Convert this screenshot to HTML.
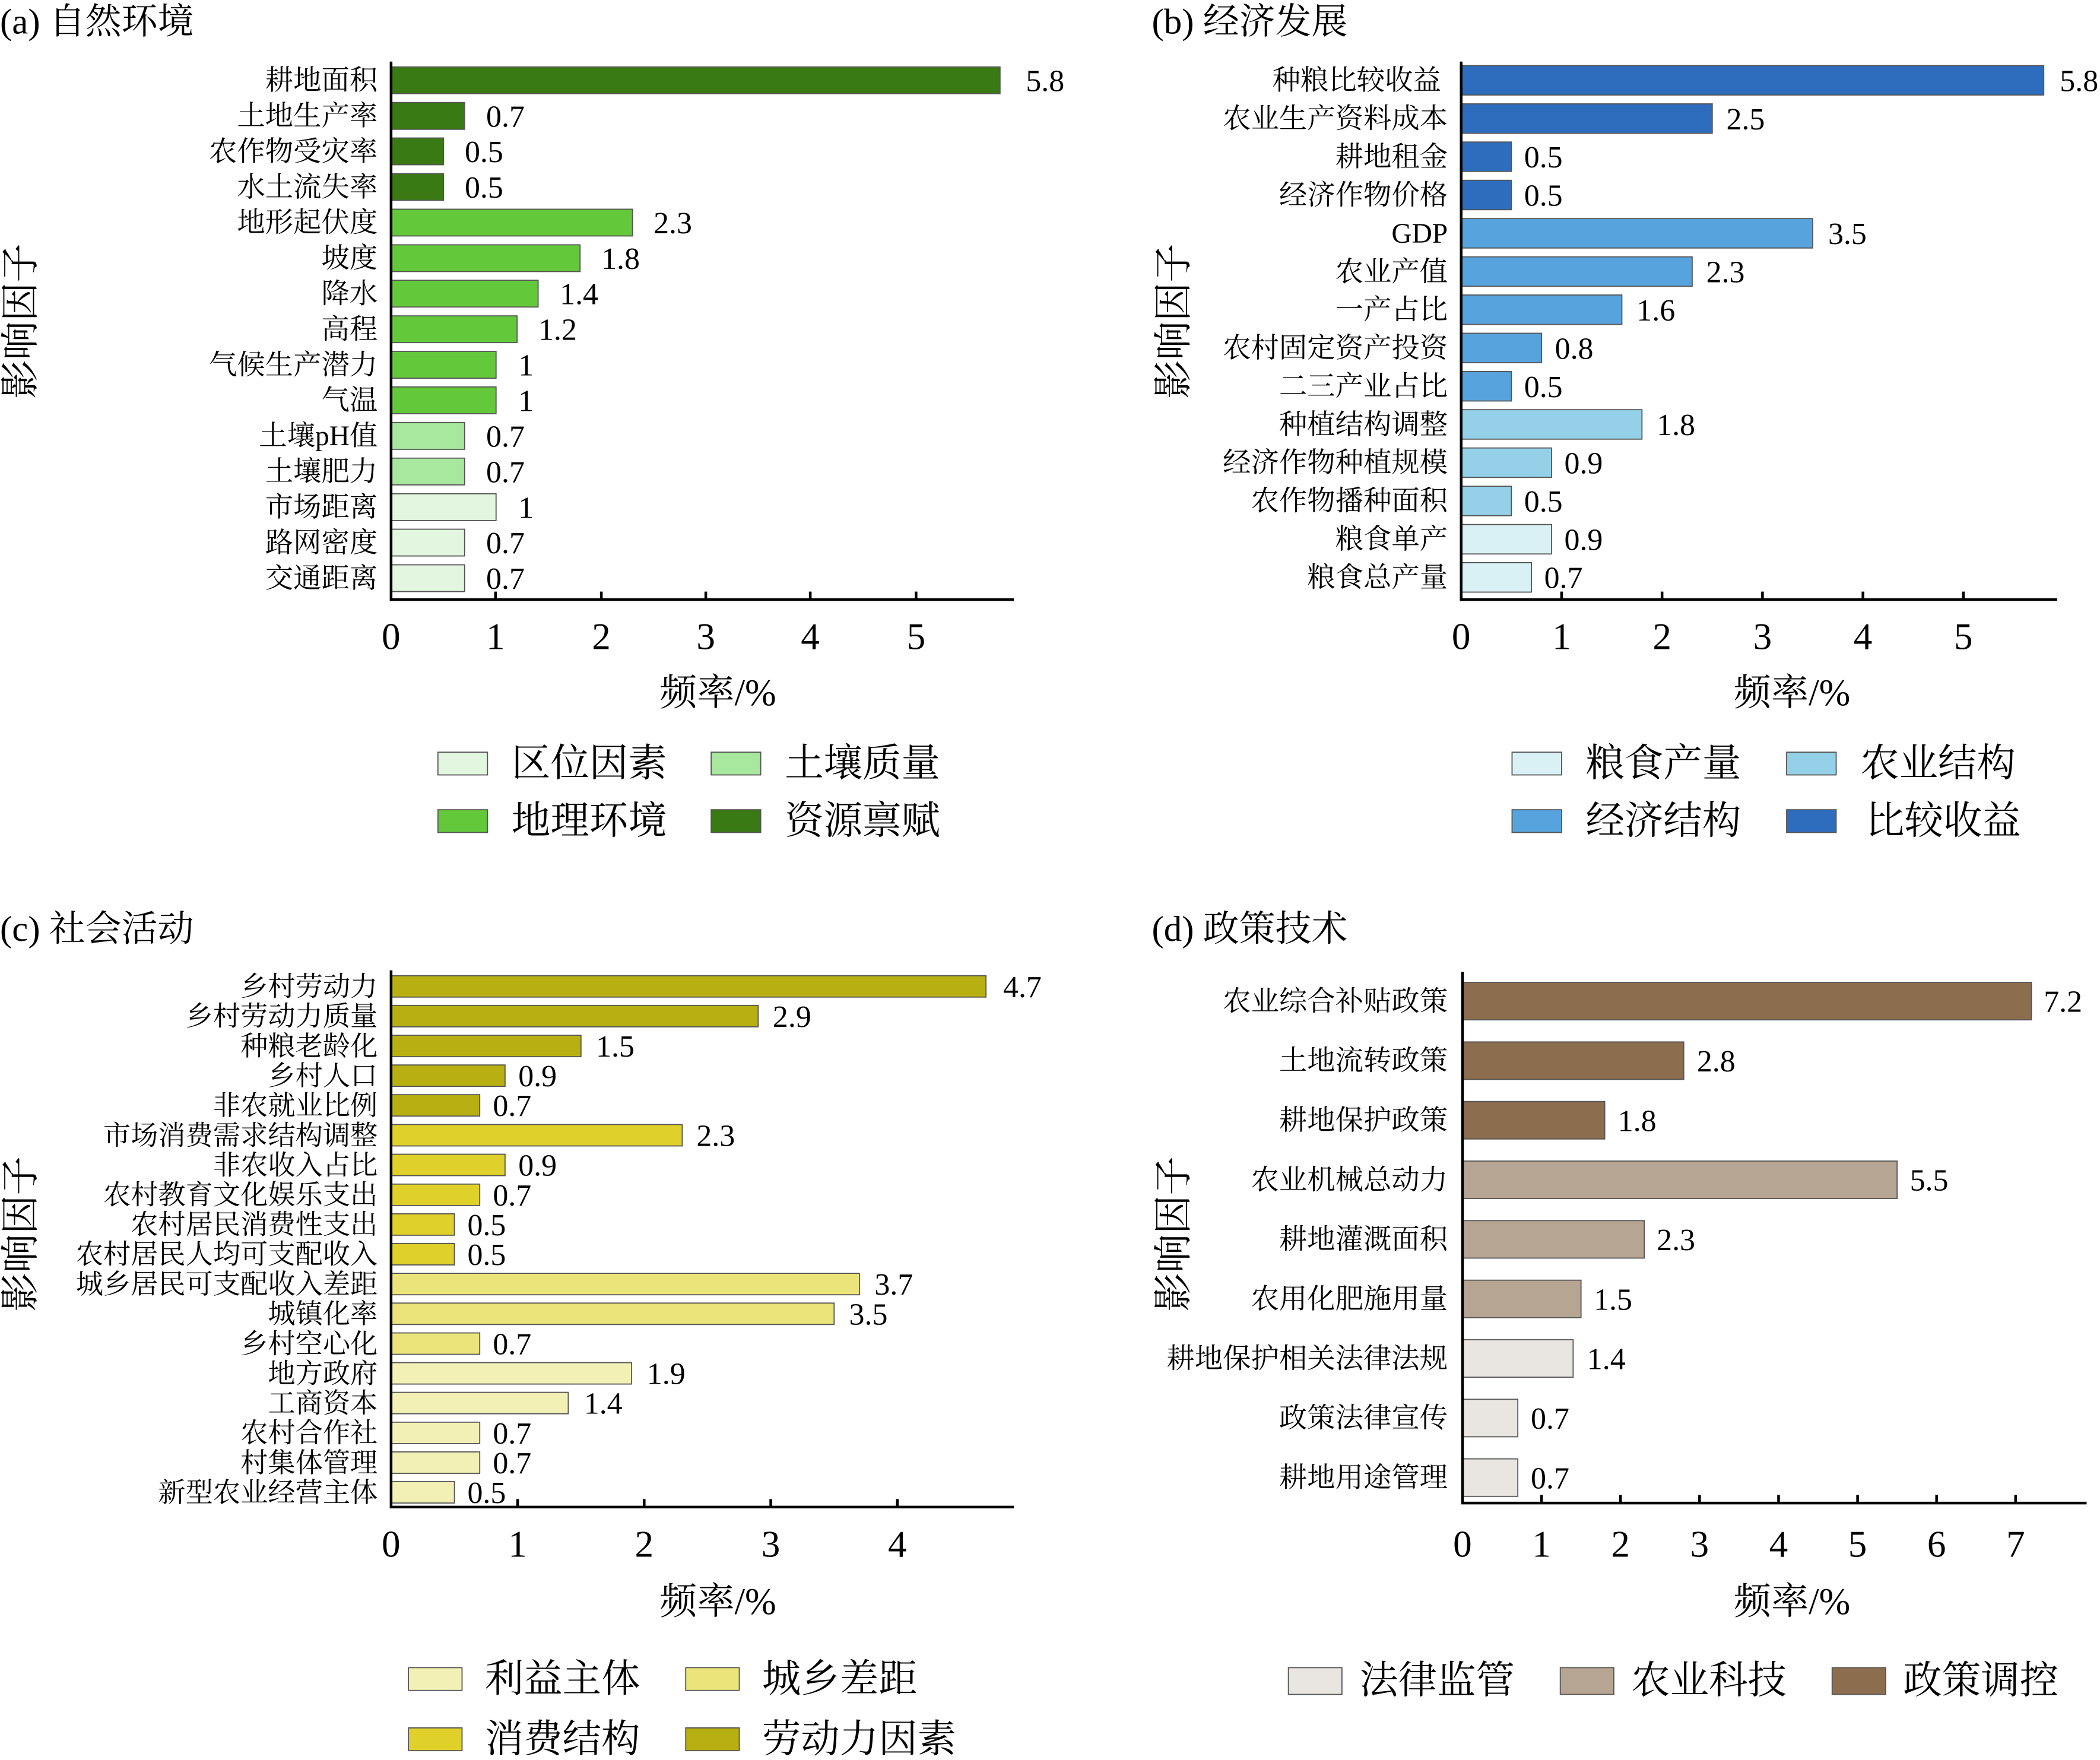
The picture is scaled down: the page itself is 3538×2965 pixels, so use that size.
<!DOCTYPE html>
<html><head><meta charset="utf-8"><style>
html,body{margin:0;padding:0;background:#fff;}
svg{display:block;}
text{font-family:"Liberation Serif","Noto Serif CJK SC",serif;fill:#000;}
.c{font-size:21px;text-anchor:end;}
.c2{font-size:20.5px;text-anchor:end;}
.v{font-size:23px;}
.t{font-size:28px;text-anchor:middle;}
.ti{font-size:27px;}
.lg{font-size:29px;}
.yl{font-size:29px;text-anchor:middle;}
rect{stroke:#555;stroke-width:0.8;}
</style></head><body>
<svg width="3538" height="2965" viewBox="0 0 1568 1315" preserveAspectRatio="none" xmlns="http://www.w3.org/2000/svg">
<!-- (a) -->
<text class="ti" x="0" y="25">(a) 自然环境</text>
<g>
<rect x="292" y="50" width="454.7" height="20" fill="#3a7a14"/>
<rect x="292" y="76.6" width="54.9" height="20" fill="#3a7a14"/>
<rect x="292" y="103.1" width="39.2" height="20" fill="#3a7a14"/>
<rect x="292" y="129.7" width="39.2" height="20" fill="#3a7a14"/>
<rect x="292" y="156.3" width="180.3" height="20" fill="#63c83a"/>
<rect x="292" y="182.9" width="141.1" height="20" fill="#63c83a"/>
<rect x="292" y="209.4" width="109.8" height="20" fill="#63c83a"/>
<rect x="292" y="236" width="94.1" height="20" fill="#63c83a"/>
<rect x="292" y="262.6" width="78.4" height="20" fill="#63c83a"/>
<rect x="292" y="289.1" width="78.4" height="20" fill="#63c83a"/>
<rect x="292" y="315.7" width="54.9" height="20" fill="#a8e89e"/>
<rect x="292" y="342.3" width="54.9" height="20" fill="#a8e89e"/>
<rect x="292" y="368.9" width="78.4" height="20" fill="#e3f6e0"/>
<rect x="292" y="395.4" width="54.9" height="20" fill="#e3f6e0"/>
<rect x="292" y="422" width="54.9" height="20" fill="#e3f6e0"/>
</g>
<g>
<text class="c" x="282" y="67">耕地面积</text>
<text class="c" x="282" y="93.6">土地生产率</text>
<text class="c" x="282" y="120.1">农作物受灾率</text>
<text class="c" x="282" y="146.7">水土流失率</text>
<text class="c" x="282" y="173.3">地形起伏度</text>
<text class="c" x="282" y="199.9">坡度</text>
<text class="c" x="282" y="226.4">降水</text>
<text class="c" x="282" y="253">高程</text>
<text class="c" x="282" y="279.6">气候生产潜力</text>
<text class="c" x="282" y="306.1">气温</text>
<text class="c" x="282" y="332.7">土壤pH值</text>
<text class="c" x="282" y="359.3">土壤肥力</text>
<text class="c" x="282" y="385.9">市场距离</text>
<text class="c" x="282" y="412.4">路网密度</text>
<text class="c" x="282" y="439">交通距离</text>
</g>
<g>
<text class="v" x="766" y="68">5.8</text>
<text class="v" x="363" y="94.6">0.7</text>
<text class="v" x="347" y="121.1">0.5</text>
<text class="v" x="347" y="147.7">0.5</text>
<text class="v" x="488" y="174.3">2.3</text>
<text class="v" x="449" y="200.9">1.8</text>
<text class="v" x="418" y="227.4">1.4</text>
<text class="v" x="402" y="254">1.2</text>
<text class="v" x="387" y="280.6">1</text>
<text class="v" x="387" y="307.1">1</text>
<text class="v" x="363" y="333.7">0.7</text>
<text class="v" x="363" y="360.3">0.7</text>
<text class="v" x="387" y="386.9">1</text>
<text class="v" x="363" y="413.4">0.7</text>
<text class="v" x="363" y="440">0.7</text>
</g>
<path d="M292 46V448H757M370 448v-6M449 448v-6M527 448v-6M605 448v-6M684 448v-6" stroke="#000" stroke-width="2" fill="none"/>
<g><text class="t" x="292" y="485">0</text><text class="t" x="370" y="485">1</text><text class="t" x="449" y="485">2</text><text class="t" x="527" y="485">3</text><text class="t" x="605" y="485">4</text><text class="t" x="684" y="485">5</text></g>
<text class="t" x="536" y="527">频率/%</text>
<text class="yl" transform="translate(25,240) rotate(-90)">影响因子</text>
<rect x="327" y="562" width="37" height="17" fill="#e3f6e0"/><text class="lg" x="382" y="580">区位因素</text>
<rect x="531" y="562" width="37" height="17" fill="#a8e89e"/><text class="lg" x="586" y="580">土壤质量</text>
<rect x="327" y="605" width="37" height="17" fill="#63c83a"/><text class="lg" x="382" y="623">地理环境</text>
<rect x="531" y="605" width="37" height="17" fill="#3a7a14"/><text class="lg" x="586" y="623">资源禀赋</text>

<!-- (b) -->
<text class="ti" x="860" y="25">(b) 经济发展</text>
<g>
<rect x="1091" y="49" width="435" height="22" fill="#2e6dbd"/>
<rect x="1091" y="77.6" width="187.5" height="22" fill="#2e6dbd"/>
<rect x="1091" y="106.1" width="37.5" height="22" fill="#2e6dbd"/>
<rect x="1091" y="134.7" width="37.5" height="22" fill="#2e6dbd"/>
<rect x="1091" y="163.3" width="262.5" height="22" fill="#57a3de"/>
<rect x="1091" y="191.9" width="172.5" height="22" fill="#57a3de"/>
<rect x="1091" y="220.4" width="120" height="22" fill="#57a3de"/>
<rect x="1091" y="249" width="60" height="22" fill="#57a3de"/>
<rect x="1091" y="277.6" width="37.5" height="22" fill="#57a3de"/>
<rect x="1091" y="306.1" width="135" height="22" fill="#94d1e8"/>
<rect x="1091" y="334.7" width="67.5" height="22" fill="#94d1e8"/>
<rect x="1091" y="363.3" width="37.5" height="22" fill="#94d1e8"/>
<rect x="1091" y="391.9" width="67.5" height="22" fill="#d9f1f4"/>
<rect x="1091" y="420.4" width="52.5" height="22" fill="#d9f1f4"/>
</g>
<g>
<text class="c" x="1076" y="67">种粮比较收益</text>
<text class="c" x="1081" y="95.6">农业生产资料成本</text>
<text class="c" x="1081" y="124.1">耕地租金</text>
<text class="c" x="1081" y="152.7">经济作物价格</text>
<text class="c" x="1081" y="181.3">GDP</text>
<text class="c" x="1081" y="209.9">农业产值</text>
<text class="c" x="1081" y="238.4">一产占比</text>
<text class="c" x="1081" y="267">农村固定资产投资</text>
<text class="c" x="1081" y="295.6">二三产业占比</text>
<text class="c" x="1081" y="324.1">种植结构调整</text>
<text class="c" x="1081" y="352.7">经济作物种植规模</text>
<text class="c" x="1081" y="381.3">农作物播种面积</text>
<text class="c" x="1081" y="409.9">粮食单产</text>
<text class="c" x="1081" y="438.4">粮食总产量</text>
</g>
<g>
<text class="v" x="1538" y="68">5.8</text>
<text class="v" x="1289" y="96.6">2.5</text>
<text class="v" x="1138" y="125.1">0.5</text>
<text class="v" x="1138" y="153.7">0.5</text>
<text class="v" x="1365" y="182.3">3.5</text>
<text class="v" x="1274" y="210.9">2.3</text>
<text class="v" x="1222" y="239.4">1.6</text>
<text class="v" x="1161" y="268">0.8</text>
<text class="v" x="1138" y="296.6">0.5</text>
<text class="v" x="1237" y="325.1">1.8</text>
<text class="v" x="1168" y="353.7">0.9</text>
<text class="v" x="1138" y="382.3">0.5</text>
<text class="v" x="1168" y="410.9">0.9</text>
<text class="v" x="1153" y="439.4">0.7</text>
</g>
<path d="M1091 46V448H1536M1166 448v-6M1241 448v-6M1316 448v-6M1391 448v-6M1466 448v-6" stroke="#000" stroke-width="2" fill="none"/>
<g><text class="t" x="1091" y="485">0</text><text class="t" x="1166" y="485">1</text><text class="t" x="1241" y="485">2</text><text class="t" x="1316" y="485">3</text><text class="t" x="1391" y="485">4</text><text class="t" x="1466" y="485">5</text></g>
<text class="t" x="1338" y="527">频率/%</text>
<text class="yl" transform="translate(886,240) rotate(-90)">影响因子</text>
<rect x="1129" y="562" width="37" height="17" fill="#d9f1f4"/><text class="lg" x="1184" y="580">粮食产量</text>
<rect x="1334" y="562" width="37" height="17" fill="#94d1e8"/><text class="lg" x="1389" y="580">农业结构</text>
<rect x="1129" y="605" width="37" height="17" fill="#57a3de"/><text class="lg" x="1184" y="623">经济结构</text>
<rect x="1334" y="605" width="37" height="17" fill="#2e6dbd"/><text class="lg" x="1393" y="623">比较收益</text>

<!-- (c) -->
<text class="ti" x="0" y="703">(c) 社会活动</text>
<g>
<rect x="292" y="729" width="444.2" height="16" fill="#b8b012"/>
<rect x="292" y="751.2" width="274.1" height="16" fill="#b8b012"/>
<rect x="292" y="773.5" width="141.8" height="16" fill="#b8b012"/>
<rect x="292" y="795.7" width="85.1" height="16" fill="#b8b012"/>
<rect x="292" y="817.9" width="66.2" height="16" fill="#b8b012"/>
<rect x="292" y="840.2" width="217.4" height="16" fill="#dfd12a"/>
<rect x="292" y="862.4" width="85.1" height="16" fill="#dfd12a"/>
<rect x="292" y="884.7" width="66.2" height="16" fill="#dfd12a"/>
<rect x="292" y="906.9" width="47.3" height="16" fill="#dfd12a"/>
<rect x="292" y="929.1" width="47.3" height="16" fill="#dfd12a"/>
<rect x="292" y="951.4" width="349.7" height="16" fill="#ebe47a"/>
<rect x="292" y="973.6" width="330.8" height="16" fill="#ebe47a"/>
<rect x="292" y="995.9" width="66.2" height="16" fill="#ebe47a"/>
<rect x="292" y="1018.1" width="179.6" height="16" fill="#f3f0b6"/>
<rect x="292" y="1040.3" width="132.3" height="16" fill="#f3f0b6"/>
<rect x="292" y="1062.6" width="66.2" height="16" fill="#f3f0b6"/>
<rect x="292" y="1084.8" width="66.2" height="16" fill="#f3f0b6"/>
<rect x="292" y="1107" width="47.3" height="16" fill="#f3f0b6"/>
</g>
<g>
<text class="c2" x="282" y="744">乡村劳动力</text>
<text class="c2" x="282" y="766.2">乡村劳动力质量</text>
<text class="c2" x="282" y="788.5">种粮老龄化</text>
<text class="c2" x="282" y="810.7">乡村人口</text>
<text class="c2" x="282" y="832.9">非农就业比例</text>
<text class="c2" x="282" y="855.2">市场消费需求结构调整</text>
<text class="c2" x="282" y="877.4">非农收入占比</text>
<text class="c2" x="282" y="899.7">农村教育文化娱乐支出</text>
<text class="c2" x="282" y="921.9">农村居民消费性支出</text>
<text class="c2" x="282" y="944.1">农村居民人均可支配收入</text>
<text class="c2" x="282" y="966.4">城乡居民可支配收入差距</text>
<text class="c2" x="282" y="988.6">城镇化率</text>
<text class="c2" x="282" y="1010.9">乡村空心化</text>
<text class="c2" x="282" y="1033.1">地方政府</text>
<text class="c2" x="282" y="1055.3">工商资本</text>
<text class="c2" x="282" y="1077.6">农村合作社</text>
<text class="c2" x="282" y="1099.8">村集体管理</text>
<text class="c2" x="282" y="1122">新型农业经营主体</text>
</g>
<g>
<text class="v" x="749" y="745">4.7</text>
<text class="v" x="577" y="767.2">2.9</text>
<text class="v" x="445" y="789.5">1.5</text>
<text class="v" x="387" y="811.7">0.9</text>
<text class="v" x="368" y="833.9">0.7</text>
<text class="v" x="520" y="856.2">2.3</text>
<text class="v" x="387" y="878.4">0.9</text>
<text class="v" x="368" y="900.7">0.7</text>
<text class="v" x="349" y="922.9">0.5</text>
<text class="v" x="349" y="945.1">0.5</text>
<text class="v" x="653" y="967.4">3.7</text>
<text class="v" x="634" y="989.6">3.5</text>
<text class="v" x="368" y="1011.9">0.7</text>
<text class="v" x="483" y="1034.1">1.9</text>
<text class="v" x="436" y="1056.3">1.4</text>
<text class="v" x="368" y="1078.6">0.7</text>
<text class="v" x="368" y="1100.8">0.7</text>
<text class="v" x="349" y="1123">0.5</text>
</g>
<path d="M292 725V1126H757M386.5 1126v-6M481 1126v-6M575.5 1126v-6M670 1126v-6" stroke="#000" stroke-width="2" fill="none"/>
<g><text class="t" x="292" y="1163">0</text><text class="t" x="386.5" y="1163">1</text><text class="t" x="481" y="1163">2</text><text class="t" x="575.5" y="1163">3</text><text class="t" x="670" y="1163">4</text></g>
<text class="t" x="536" y="1206">频率/%</text>
<text class="yl" transform="translate(25,922) rotate(-90)">影响因子</text>
<rect x="305" y="1246" width="40" height="17" fill="#f3f0b6"/><text class="lg" x="362" y="1264">利益主体</text>
<rect x="512" y="1246" width="40" height="17" fill="#ebe47a"/><text class="lg" x="569" y="1264">城乡差距</text>
<rect x="305" y="1291" width="40" height="17" fill="#dfd12a"/><text class="lg" x="362" y="1309">消费结构</text>
<rect x="512" y="1291" width="40" height="17" fill="#b8b012"/><text class="lg" x="569" y="1309">劳动力因素</text>

<!-- (d) -->
<text class="ti" x="860" y="703">(d) 政策技术</text>
<g>
<rect x="1092" y="734" width="424.8" height="28" fill="#8c6d4e"/>
<rect x="1092" y="778.5" width="165.2" height="28" fill="#8c6d4e"/>
<rect x="1092" y="823" width="106.2" height="28" fill="#8c6d4e"/>
<rect x="1092" y="867.5" width="324.5" height="28" fill="#b7a593"/>
<rect x="1092" y="912" width="135.7" height="28" fill="#b7a593"/>
<rect x="1092" y="956.5" width="88.5" height="28" fill="#b7a593"/>
<rect x="1092" y="1001" width="82.6" height="28" fill="#e9e5e1"/>
<rect x="1092" y="1045.5" width="41.3" height="28" fill="#e9e5e1"/>
<rect x="1092" y="1090" width="41.3" height="28" fill="#e9e5e1"/>
</g>
<g>
<text class="c" x="1081" y="755">农业综合补贴政策</text>
<text class="c" x="1081" y="799.5">土地流转政策</text>
<text class="c" x="1081" y="844">耕地保护政策</text>
<text class="c" x="1081" y="888.5">农业机械总动力</text>
<text class="c" x="1081" y="933">耕地灌溉面积</text>
<text class="c" x="1081" y="977.5">农用化肥施用量</text>
<text class="c" x="1081" y="1022">耕地保护相关法律法规</text>
<text class="c" x="1081" y="1066.5">政策法律宣传</text>
<text class="c" x="1081" y="1111">耕地用途管理</text>
</g>
<g>
<text class="v" x="1526" y="756">7.2</text>
<text class="v" x="1267" y="800.5">2.8</text>
<text class="v" x="1208" y="845">1.8</text>
<text class="v" x="1426" y="889.5">5.5</text>
<text class="v" x="1237" y="934">2.3</text>
<text class="v" x="1190" y="978.5">1.5</text>
<text class="v" x="1185" y="1023">1.4</text>
<text class="v" x="1143" y="1067.5">0.7</text>
<text class="v" x="1143" y="1112">0.7</text>
</g>
<path d="M1092 726V1123H1558M1151 1123v-6M1210 1123v-6M1269 1123v-6M1328 1123v-6M1387 1123v-6M1446 1123v-6M1505 1123v-6" stroke="#000" stroke-width="2" fill="none"/>
<g><text class="t" x="1092" y="1163">0</text><text class="t" x="1151" y="1163">1</text><text class="t" x="1210" y="1163">2</text><text class="t" x="1269" y="1163">3</text><text class="t" x="1328" y="1163">4</text><text class="t" x="1387" y="1163">5</text><text class="t" x="1446" y="1163">6</text><text class="t" x="1505" y="1163">7</text></g>
<text class="t" x="1338" y="1206">频率/%</text>
<text class="yl" transform="translate(886,922) rotate(-90)">影响因子</text>
<rect x="962" y="1246" width="40" height="20" fill="#e9e5e1"/><text class="lg" x="1015" y="1265">法律监管</text>
<rect x="1165" y="1246" width="40" height="20" fill="#b7a593"/><text class="lg" x="1218" y="1265">农业科技</text>
<rect x="1368" y="1246" width="40" height="20" fill="#8c6d4e"/><text class="lg" x="1421" y="1265">政策调控</text>
</svg>
</body></html>
